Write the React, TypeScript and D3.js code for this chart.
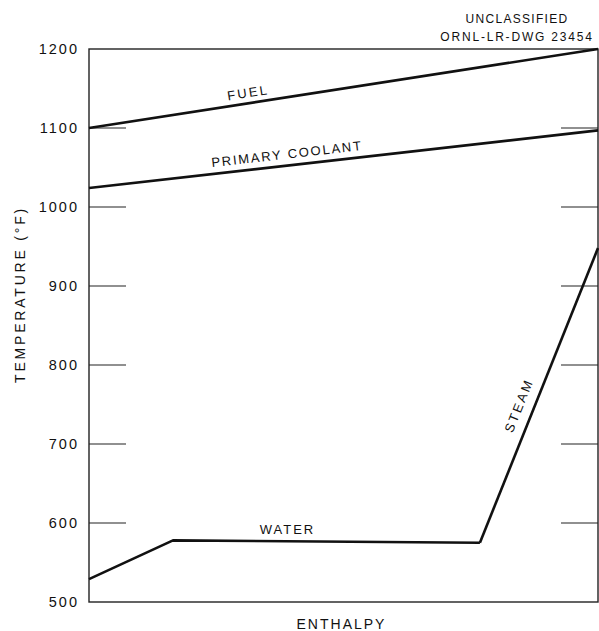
import * as d3 from "d3";

// enthalpy has no numeric scale in the original, so 0..1 across the plot
const fuelX = [0, 1];
const fuelT = [1100, 1200];
const coolantX = [0, 1];
const coolantT = [1024, 1097];
const waterX = [0, 0.165, 0.768];
const waterT = [529, 578, 575];
const steamX = [0.768, 1];
const steamT = [575, 948];

const yTicks = [500, 600, 700, 800, 900, 1000, 1100, 1200];
const innerTicks = [600, 700, 800, 900, 1000, 1100];

const W = 599;
const H = 631;
const FONT = "'Liberation Sans', Arial, Helvetica, sans-serif";
const INK = "#111";

export default function App() {
  const x = d3.scaleLinear().domain([0, 1]).range([89, 598]);
  const y = d3.scaleLinear().domain([500, 1200]).range([602, 49]);

  const line = d3
    .line<[number, number]>()
    .x((d) => x(d[0]))
    .y((d) => y(d[1]));

  const series = [
    { xs: fuelX, ts: fuelT },
    { xs: coolantX, ts: coolantT },
    { xs: waterX, ts: waterT },
    { xs: steamX, ts: steamT },
  ];

  // angle of a segment on screen, for labels laid along the lines
  const angle = (xs: number[], ts: number[]) =>
    (Math.atan2(y(ts[1]) - y(ts[0]), x(xs[1]) - x(xs[0])) * 180) / Math.PI;

  const along = (xs: number[], ts: number[], f: number) => {
    const fx = xs[0] + (xs[1] - xs[0]) * f;
    const ft = ts[0] + (ts[1] - ts[0]) * f;
    return [x(fx), y(ft)];
  };

  const [fx, fy] = along(fuelX, fuelT, 0.314);
  const [cx, cy] = along(coolantX, coolantT, 0.39);
  const [sx, sy] = along(steamX, steamT, 0.45);
  const fuelA = angle(fuelX, fuelT);
  const coolA = angle(coolantX, coolantT);
  const steamA = angle(steamX, steamT);

  const [x0, x1] = x.range();
  const [yb, yt] = y.range();

  return (
    <svg
      width={W}
      height={H}
      style={{ position: "absolute", left: 0, top: 0, background: "#fff" }}
      fontFamily={FONT}
    >
      {/* frame */}
      <rect x={x0} y={yt} width={x1 - x0} height={yb - yt} fill="none" stroke="#222" strokeWidth={1.4} />

      {/* short ticks on both sides */}
      {innerTicks.map((t) => (
        <g key={t} stroke="#222" strokeWidth={1.1}>
          <line x1={x0} x2={x0 + 37} y1={y(t)} y2={y(t)} />
          <line x1={x1 - 37} x2={x1} y1={y(t)} y2={y(t)} />
        </g>
      ))}

      {yTicks.map((t) => (
        <text
          key={t}
          x={79}
          y={y(t) + 5}
          textAnchor="end"
          fontSize={14.5}
          letterSpacing={2}
          fill={INK}
        >
          {t}
        </text>
      ))}

      {series.map((s, i) => (
        <path
          key={i}
          d={line(s.xs.map((v, j) => [v, s.ts[j]]) as [number, number][]) ?? ""}
          fill="none"
          stroke={INK}
          strokeWidth={2.6}
          strokeLinejoin="round"
        />
      ))}

      <text
        transform={`translate(${fx},${fy - 6}) rotate(${fuelA})`}
        textAnchor="middle"
        fontSize={13}
        letterSpacing={2.2}
        fill={INK}
      >
        FUEL
      </text>
      <text
        transform={`translate(${cx},${cy - 7}) rotate(${coolA})`}
        textAnchor="middle"
        fontSize={13}
        letterSpacing={1.8}
        fill={INK}
      >
        PRIMARY COOLANT
      </text>
      <text
        x={x(0.39)}
        y={y(578) - 6}
        textAnchor="middle"
        fontSize={13}
        letterSpacing={2}
        fill={INK}
      >
        WATER
      </text>
      <text
        transform={`translate(${sx - 10},${sy - 3}) rotate(${steamA})`}
        textAnchor="middle"
        fontSize={13}
        letterSpacing={2.4}
        fill={INK}
      >
        STEAM
      </text>

      <text
        transform={`translate(25,${(yt + yb) / 2 - 31}) rotate(-90)`}
        textAnchor="middle"
        fontSize={14}
        letterSpacing={2.8}
        fill={INK}
      >
        TEMPERATURE (°F)
      </text>
      <text x={(x0 + x1) / 2 - 2} y={629} textAnchor="middle" fontSize={14} letterSpacing={2} fill={INK}>
        ENTHALPY
      </text>

      <text x={517} y={23} textAnchor="middle" fontSize={12} letterSpacing={1.3} fill={INK}>
        UNCLASSIFIED
      </text>
      <text x={517} y={41} textAnchor="middle" fontSize={12} letterSpacing={1.8} fill={INK}>
        ORNL-LR-DWG 23454
      </text>
    </svg>
  );
}
